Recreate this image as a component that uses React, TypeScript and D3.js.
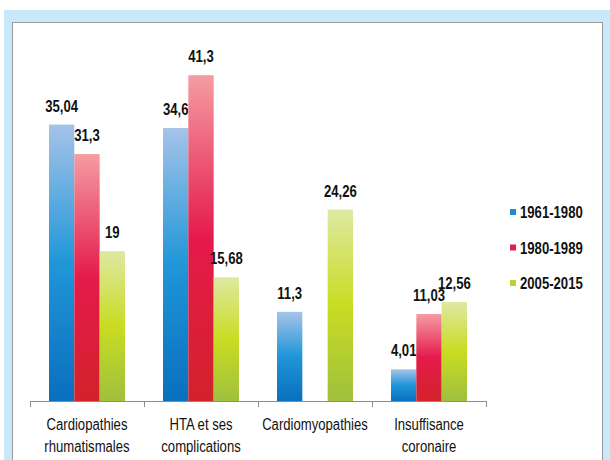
import React, { useRef, useEffect } from 'react';
import { select, scaleBand, scaleLinear } from 'd3';

// data
const categories = ['Cardiopathies rhumatismales', 'HTA et ses complications', 'Cardiomyopathies', 'Insuffisance coronaire'];
const categoryLines = [['Cardiopathies', 'rhumatismales'], ['HTA et ses', 'complications'], ['Cardiomyopathies'], ['Insuffisance', 'coronaire']];
const seriesNames = ['1961-1980', '1980-1989', '2005-2015'];
const values1961 = [35.04, 34.6, 11.3, 4.01];
const values1980 = [31.3, 41.3, null, 11.03];
const values2005 = [19, 15.68, 24.26, 12.56];
const valueLabels1961 = ['35,04', '34,6', '11,3', '4,01'];
const valueLabels1980 = ['31,3', '41,3', '', '11,03'];
const valueLabels2005 = ['19', '15,68', '24,26', '12,56'];

const gradients = [
  ['#a6c3e9', '#2096d8', '#0a6fbe'],
  ['#f59ca2', '#e51a4c', '#d3222a'],
  ['#dee9a2', '#c9dc22', '#9fc03e'],
];
const legendColors = ['#1f8bd4', '#e0204a', '#b9d22e'];

const FONT = '"Liberation Sans", Arial, sans-serif';
const SQUEEZE = 0.82; // no narrow font installed, so squeeze the text horizontally

function App() {
  const svgRef = useRef<SVGSVGElement>(null);

  useEffect(() => {
    const svg = select(svgRef.current);
    svg.selectAll('*').remove();

    const width = 610;
    const height = 460;
    const baseline = 401;

    // frame
    svg.append('rect').attr('x', 4).attr('y', 10).attr('width', width - 4).attr('height', height - 10).attr('fill', '#c7e9f9');
    svg.append('rect').attr('x', 12.5).attr('y', 22.5).attr('width', 590).attr('height', height).attr('fill', '#fff').attr('stroke', '#9a9a9a').attr('stroke-width', 1);

    const defs = svg.append('defs');
    gradients.forEach((g, i) => {
      const lg = defs.append('linearGradient').attr('id', 'grad' + i).attr('x1', 0).attr('y1', 0).attr('x2', 0).attr('y2', 1);
      lg.append('stop').attr('offset', '0%').attr('stop-color', g[0]);
      lg.append('stop').attr('offset', '50%').attr('stop-color', g[1]);
      lg.append('stop').attr('offset', '100%').attr('stop-color', g[2]);
    });

    const xScale = scaleBand().domain(categories).range([30, 486]).paddingInner(0).paddingOuter(0);
    const inner = scaleBand().domain(seriesNames).range([0, xScale.bandwidth()]).paddingInner(0).paddingOuter(0.75);
    const yScale = scaleLinear().domain([0, 45]).range([baseline, 46]);

    const series = [
      { name: seriesNames[0], values: values1961, labels: valueLabels1961 },
      { name: seriesNames[1], values: values1980, labels: valueLabels1980 },
      { name: seriesNames[2], values: values2005, labels: valueLabels2005 },
    ];

    series.forEach((s, si) => {
      const rows = categories.map((c, i) => ({ cat: c, value: s.values[i], label: s.labels[i] })).filter(d => d.value != null);
      svg.selectAll('.bar' + si)
        .data(rows)
        .join('rect')
        .attr('class', 'bar' + si)
        .attr('x', d => (xScale(d.cat) as number) + (inner(s.name) as number))
        .attr('width', inner.bandwidth())
        .attr('y', d => yScale(d.value as number))
        .attr('height', d => baseline - yScale(d.value as number))
        .attr('fill', `url(#grad${si})`);

      svg.selectAll('.label' + si)
        .data(rows)
        .join('text')
        .attr('class', 'label' + si)
        .attr('transform', d => `translate(${(xScale(d.cat) as number) + (inner(s.name) as number) + inner.bandwidth() / 2},${yScale(d.value as number) - 13}) scale(${SQUEEZE},1)`)
        .attr('text-anchor', 'middle')
        .attr('font-family', FONT)
        .attr('font-weight', 'bold')
        .attr('font-size', 16)
        .attr('fill', '#111')
        .text(d => d.label);
    });

    // axis
    const axis = svg.append('g').attr('stroke', '#8c8c8c');
    axis.append('line').attr('x1', xScale.range()[0]).attr('x2', xScale.range()[1]).attr('y1', baseline + 0.5).attr('y2', baseline + 0.5);
    const edges = categories.map(c => xScale(c) as number).concat([xScale.range()[1]]);
    axis.selectAll('.tick')
      .data(edges)
      .join('line')
      .attr('class', 'tick')
      .attr('x1', d => Math.round(d) + 0.5).attr('x2', d => Math.round(d) + 0.5)
      .attr('y1', baseline).attr('y2', baseline + 6);

    categories.forEach((c, i) => {
      const t = svg.append('text')
        .attr('transform', `translate(${(xScale(c) as number) + xScale.bandwidth() / 2},430) scale(${SQUEEZE},1)`)
        .attr('text-anchor', 'middle')
        .attr('font-family', FONT)
        .attr('font-size', 16)
        .attr('fill', '#111');
      categoryLines[i].forEach((line, li) => {
        t.append('tspan').attr('x', 0).attr('y', li * 22).text(line);
      });
    });

    // legend
    seriesNames.forEach((n, i) => {
      const y = 218 + i * 35.5;
      svg.append('rect').attr('x', 510).attr('y', y - 9).attr('width', 6).attr('height', 6).attr('fill', legendColors[i]);
      svg.append('text')
        .attr('transform', `translate(520,${y}) scale(${SQUEEZE},1)`)
        .attr('font-family', FONT)
        .attr('font-weight', 'bold')
        .attr('font-size', 16)
        .attr('fill', '#111')
        .text(n);
    });
  }, []);

  return (
    <div style={{ position: 'absolute', left: 0, top: 0 }}>
      <svg ref={svgRef} width={610} height={460}></svg>
    </div>
  );
}

export default App;
